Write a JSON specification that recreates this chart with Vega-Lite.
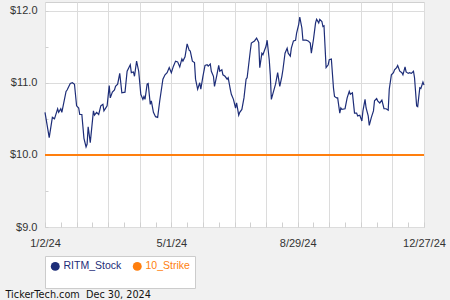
{
  "$schema": "https://vega.github.io/schema/vega-lite/v6.json",
  "width": 379,
  "height": 225,
  "autosize": {"type": "none"},
  "padding": {"left": 45, "top": 2, "right": 26, "bottom": 73},
  "background": "#f1f1f1",
  "config": {
    "font": "Liberation Sans",
    "view": {"fill": "#ffffff", "stroke": "#d0d0d0", "strokeWidth": 1}
  },
  "datasets": {
    "stock": [
      {"d":"2024-01-02","v":10.59},{"d":"2024-01-06","v":10.24},{"d":"2024-01-09","v":10.52},{"d":"2024-01-11","v":10.50},
      {"d":"2024-01-14","v":10.64},{"d":"2024-01-15","v":10.59},{"d":"2024-01-17","v":10.64},{"d":"2024-01-18","v":10.59},
      {"d":"2024-01-22","v":10.88},{"d":"2024-01-23","v":10.90},{"d":"2024-01-26","v":10.99},{"d":"2024-01-28","v":11.00},
      {"d":"2024-01-30","v":10.98},{"d":"2024-02-01","v":10.68},{"d":"2024-02-03","v":10.65},{"d":"2024-02-04","v":10.56},
      {"d":"2024-02-06","v":10.56},{"d":"2024-02-08","v":10.23},{"d":"2024-02-10","v":10.11},{"d":"2024-02-11","v":10.15},
      {"d":"2024-02-12","v":10.39},{"d":"2024-02-14","v":10.17},{"d":"2024-02-17","v":10.61},{"d":"2024-02-18","v":10.55},
      {"d":"2024-02-20","v":10.59},{"d":"2024-02-22","v":10.56},{"d":"2024-02-24","v":10.68},{"d":"2024-02-26","v":10.70},
      {"d":"2024-02-27","v":10.61},{"d":"2024-03-01","v":10.68},{"d":"2024-03-03","v":10.96},{"d":"2024-03-04","v":10.79},
      {"d":"2024-03-06","v":10.87},{"d":"2024-03-08","v":10.90},{"d":"2024-03-09","v":10.95},{"d":"2024-03-11","v":10.98},
      {"d":"2024-03-13","v":11.13},{"d":"2024-03-15","v":10.86},{"d":"2024-03-18","v":10.87},{"d":"2024-03-20","v":11.16},
      {"d":"2024-03-23","v":11.25},{"d":"2024-03-24","v":11.14},{"d":"2024-03-26","v":11.15},{"d":"2024-03-27","v":11.09},
      {"d":"2024-03-29","v":11.30},{"d":"2024-03-31","v":11.16},{"d":"2024-04-02","v":10.84},{"d":"2024-04-04","v":10.77},
      {"d":"2024-04-05","v":10.81},{"d":"2024-04-06","v":10.77},{"d":"2024-04-08","v":10.98},{"d":"2024-04-09","v":10.99},
      {"d":"2024-04-11","v":10.70},{"d":"2024-04-12","v":10.75},{"d":"2024-04-14","v":10.59},{"d":"2024-04-16","v":10.53},
      {"d":"2024-04-18","v":10.52},{"d":"2024-04-20","v":10.75},{"d":"2024-04-23","v":11.05},{"d":"2024-04-25","v":11.11},
      {"d":"2024-04-27","v":11.14},{"d":"2024-04-29","v":11.21},{"d":"2024-05-01","v":11.14},{"d":"2024-05-03","v":11.23},
      {"d":"2024-05-05","v":11.30},{"d":"2024-05-07","v":11.29},{"d":"2024-05-09","v":11.22},{"d":"2024-05-11","v":11.33},
      {"d":"2024-05-12","v":11.30},{"d":"2024-05-14","v":11.36},{"d":"2024-05-16","v":11.54},{"d":"2024-05-18","v":11.45},
      {"d":"2024-05-19","v":11.44},{"d":"2024-05-21","v":11.30},{"d":"2024-05-23","v":11.28},{"d":"2024-05-24","v":11.05},
      {"d":"2024-05-26","v":10.91},{"d":"2024-05-28","v":11.00},{"d":"2024-05-29","v":10.91},{"d":"2024-05-31","v":11.09},
      {"d":"2024-06-02","v":11.24},{"d":"2024-06-04","v":11.25},{"d":"2024-06-05","v":11.23},{"d":"2024-06-07","v":11.26},
      {"d":"2024-06-08","v":11.16},{"d":"2024-06-10","v":11.09},{"d":"2024-06-11","v":10.95},{"d":"2024-06-13","v":11.09},
      {"d":"2024-06-15","v":11.24},{"d":"2024-06-16","v":11.16},{"d":"2024-06-18","v":11.18},{"d":"2024-06-19","v":11.11},
      {"d":"2024-06-21","v":11.09},{"d":"2024-06-23","v":11.05},{"d":"2024-06-24","v":11.07},{"d":"2024-06-26","v":10.91},
      {"d":"2024-06-27","v":10.84},{"d":"2024-06-29","v":10.77},{"d":"2024-07-01","v":10.65},{"d":"2024-07-02","v":10.72},
      {"d":"2024-07-04","v":10.55},{"d":"2024-07-05","v":10.59},{"d":"2024-07-07","v":10.63},{"d":"2024-07-09","v":10.79},
      {"d":"2024-07-11","v":11.05},{"d":"2024-07-12","v":11.07},{"d":"2024-07-15","v":11.44},{"d":"2024-07-16","v":11.55},
      {"d":"2024-07-19","v":11.58},{"d":"2024-07-21","v":11.62},{"d":"2024-07-23","v":11.56},{"d":"2024-07-24","v":11.21},
      {"d":"2024-07-26","v":11.41},{"d":"2024-07-27","v":11.39},{"d":"2024-07-30","v":11.51},{"d":"2024-07-31","v":11.59},
      {"d":"2024-08-02","v":11.32},{"d":"2024-08-03","v":11.11},{"d":"2024-08-04","v":10.77},{"d":"2024-08-07","v":10.93},
      {"d":"2024-08-08","v":10.98},{"d":"2024-08-10","v":11.14},{"d":"2024-08-12","v":10.95},{"d":"2024-08-14","v":11.09},
      {"d":"2024-08-15","v":11.18},{"d":"2024-08-17","v":11.41},{"d":"2024-08-19","v":11.48},{"d":"2024-08-20","v":11.41},
      {"d":"2024-08-22","v":11.37},{"d":"2024-08-23","v":11.48},{"d":"2024-08-25","v":11.58},{"d":"2024-08-27","v":11.59},
      {"d":"2024-08-28","v":11.69},{"d":"2024-08-30","v":11.81},{"d":"2024-08-31","v":11.91},{"d":"2024-09-02","v":11.76},
      {"d":"2024-09-03","v":11.59},{"d":"2024-09-06","v":11.59},{"d":"2024-09-08","v":11.58},{"d":"2024-09-10","v":11.55},
      {"d":"2024-09-11","v":11.41},{"d":"2024-09-13","v":11.60},{"d":"2024-09-15","v":11.83},{"d":"2024-09-16","v":11.88},
      {"d":"2024-09-18","v":11.83},{"d":"2024-09-19","v":11.88},{"d":"2024-09-21","v":11.85},{"d":"2024-09-22","v":11.78},
      {"d":"2024-09-23","v":11.79},{"d":"2024-09-25","v":11.21},{"d":"2024-09-27","v":11.25},{"d":"2024-09-28","v":11.32},
      {"d":"2024-09-30","v":11.33},{"d":"2024-10-02","v":10.93},{"d":"2024-10-03","v":10.81},{"d":"2024-10-05","v":10.79},
      {"d":"2024-10-06","v":10.79},{"d":"2024-10-08","v":10.58},{"d":"2024-10-09","v":10.65},{"d":"2024-10-10","v":10.63},
      {"d":"2024-10-13","v":10.64},{"d":"2024-10-15","v":10.79},{"d":"2024-10-17","v":10.88},{"d":"2024-10-18","v":10.84},
      {"d":"2024-10-20","v":10.86},{"d":"2024-10-22","v":10.58},{"d":"2024-10-24","v":10.58},{"d":"2024-10-25","v":10.54},
      {"d":"2024-10-27","v":10.55},{"d":"2024-10-29","v":10.47},{"d":"2024-10-30","v":10.61},{"d":"2024-11-01","v":10.77},
      {"d":"2024-11-02","v":10.65},{"d":"2024-11-04","v":10.54},{"d":"2024-11-05","v":10.41},{"d":"2024-11-07","v":10.52},
      {"d":"2024-11-09","v":10.61},{"d":"2024-11-10","v":10.75},{"d":"2024-11-12","v":10.78},{"d":"2024-11-13","v":10.75},
      {"d":"2024-11-15","v":10.72},{"d":"2024-11-17","v":10.76},{"d":"2024-11-19","v":10.64},{"d":"2024-11-21","v":10.64},
      {"d":"2024-11-23","v":10.62},{"d":"2024-11-24","v":10.91},{"d":"2024-11-26","v":11.11},{"d":"2024-11-28","v":11.14},
      {"d":"2024-11-29","v":11.18},{"d":"2024-12-01","v":11.21},{"d":"2024-12-02","v":11.24},{"d":"2024-12-04","v":11.16},
      {"d":"2024-12-06","v":11.14},{"d":"2024-12-07","v":11.11},{"d":"2024-12-09","v":11.22},{"d":"2024-12-10","v":11.15},
      {"d":"2024-12-12","v":11.13},{"d":"2024-12-13","v":11.14},{"d":"2024-12-15","v":11.13},{"d":"2024-12-17","v":11.16},
      {"d":"2024-12-18","v":11.07},{"d":"2024-12-20","v":10.68},{"d":"2024-12-21","v":10.67},{"d":"2024-12-23","v":10.93},
      {"d":"2024-12-24","v":10.92},{"d":"2024-12-26","v":11.01},{"d":"2024-12-27","v":10.97}
    ],
    "strike": [
      {"d":"2024-01-02","v":10.0},{"d":"2024-12-27","v":10.0}
    ]
  },
  "encoding": {
    "x": {
      "field": "d",
      "type": "temporal",
      "scale": {
        "type": "utc",
        "nice": false,
        "domain": [{"year":2024,"month":1,"date":2,"utc":true},{"year":2024,"month":12,"date":27,"utc":true}]
      },
      "axis": {
        "values": [
          {"year":2024,"month":1,"date":2,"utc":true},{"year":2024,"month":1,"date":17,"utc":true},
          {"year":2024,"month":2,"date":1,"utc":true},{"year":2024,"month":2,"date":16,"utc":true},
          {"year":2024,"month":3,"date":2,"utc":true},{"year":2024,"month":3,"date":17,"utc":true},
          {"year":2024,"month":4,"date":1,"utc":true},{"year":2024,"month":4,"date":16,"utc":true},
          {"year":2024,"month":5,"date":1,"utc":true},{"year":2024,"month":5,"date":16,"utc":true},
          {"year":2024,"month":5,"date":31,"utc":true},{"year":2024,"month":6,"date":15,"utc":true},
          {"year":2024,"month":6,"date":30,"utc":true},{"year":2024,"month":7,"date":15,"utc":true},
          {"year":2024,"month":7,"date":30,"utc":true},{"year":2024,"month":8,"date":14,"utc":true},
          {"year":2024,"month":8,"date":29,"utc":true},{"year":2024,"month":9,"date":13,"utc":true},
          {"year":2024,"month":9,"date":28,"utc":true},{"year":2024,"month":10,"date":13,"utc":true},
          {"year":2024,"month":10,"date":28,"utc":true},{"year":2024,"month":11,"date":12,"utc":true},
          {"year":2024,"month":11,"date":27,"utc":true},{"year":2024,"month":12,"date":12,"utc":true},
          {"year":2024,"month":12,"date":27,"utc":true}
        ],
        "format": "%-m/%-d/%y",
        "labelExpr": "round((datum.value - 1704153600000) / 86400000) % 120 === 0 ? datum.label : ''",
        "labelFontSize": 11,
        "labelColor": "#333333",
        "labelPadding": 15,
        "labelOverlap": false,
        "labelFlush": false,
        "domain": false,
        "tickSize": -5,
        "tickColor": "#d0d0d0",
        "grid": true,
        "gridColor": "#dcdcdc",
        "gridOpacity": {"condition": {"test": "round((datum.value - 1704153600000) / 86400000) % 30 !== 0", "value": 0}, "value": 1},
        "title": "TickerTech.com\u00a0 Dec 30, 2024",
        "titleFont": "DejaVu Sans",
        "titleFontSize": 9.7,
        "titleFontWeight": "normal",
        "titleColor": "#111111",
        "titleAlign": "left",
        "titleAnchor": "start",
        "titleBaseline": "alphabetic",
        "titleX": -40,
        "titleY": 70
      }
    },
    "y": {
      "field": "v",
      "type": "quantitative",
      "scale": {"domain": [9, 12.12], "nice": false, "zero": false},
      "axis": {
        "values": [9, 9.5, 10, 10.5, 11, 11.5, 12],
        "format": "$.1f",
        "labelExpr": "datum.value % 1 === 0 ? datum.label : ''",
        "labelFontSize": 11,
        "labelColor": "#333333",
        "labelPadding": 11,
        "domain": false,
        "tickSize": -3,
        "tickColor": "#d0d0d0",
        "grid": true,
        "gridColor": "#dcdcdc",
        "gridOpacity": {"condition": {"test": "datum.value % 1 !== 0", "value": 0}, "value": 1},
        "title": null
      }
    },
    "color": {
      "type": "nominal",
      "scale": {"domain": ["RITM_Stock", "10_Strike"], "range": ["#1d2d78", "#ff7f0e"]},
      "legend": {
        "orient": "none",
        "legendX": 0,
        "legendY": 254,
        "direction": "horizontal",
        "fillColor": "#ffffff",
        "strokeColor": "#cccccc",
        "padding": 5,
        "symbolType": "circle",
        "symbolSize": 80,
        "labelFontSize": 10.5,
        "labelOffset": 3,
        "columnPadding": 10,
        "title": "\u2003\u2003\u2003\u2003\u2003\u2003\u2003\u2003\u2003\u2003\u2003\u2003\u2003\u2003\u2003\u2003\u2003\u2003\u2003\u2003\u2003\u2003\u2003\u2003\u2003\u2003\u2003\u2003\u2003\u2003\u2003\u2003\u2003\u2003\u2003\u2003\u2003\u2003\u2003\u2003\u2003\u2003\u2003\u2003\u2003\u2003\u2003\u2003\u2003\u2003\u2003\u2003\u2003\u2003\u2003\u2003\u2003\u2003\u2003\u2003\u2003\u2003\u2003\u2003\u2003\u2003\u2003\u2003\u2003\u2003\u2003\u2003\u2003\u2003",
        "titleFontSize": 5,
        "titleOrient": "bottom",
        "titlePadding": 6,
        "titleAlign": "left",
        "encode": {
          "symbols": {"update": {"fill": {"scale": "color", "field": "value"}, "strokeWidth": {"value": 0}}},
          "labels": {"update": {"fill": {"scale": "color", "field": "value"}}}
        }
      }
    }
  },
  "layer": [
    {
      "data": {"name": "stock"},
      "mark": {"type": "line", "strokeWidth": 1.2},
      "encoding": {"color": {"datum": "RITM_Stock", "type": "nominal"}}
    },
    {
      "data": {"name": "strike"},
      "mark": {"type": "line", "strokeWidth": 2},
      "encoding": {"color": {"datum": "10_Strike", "type": "nominal"}}
    }
  ]
}
